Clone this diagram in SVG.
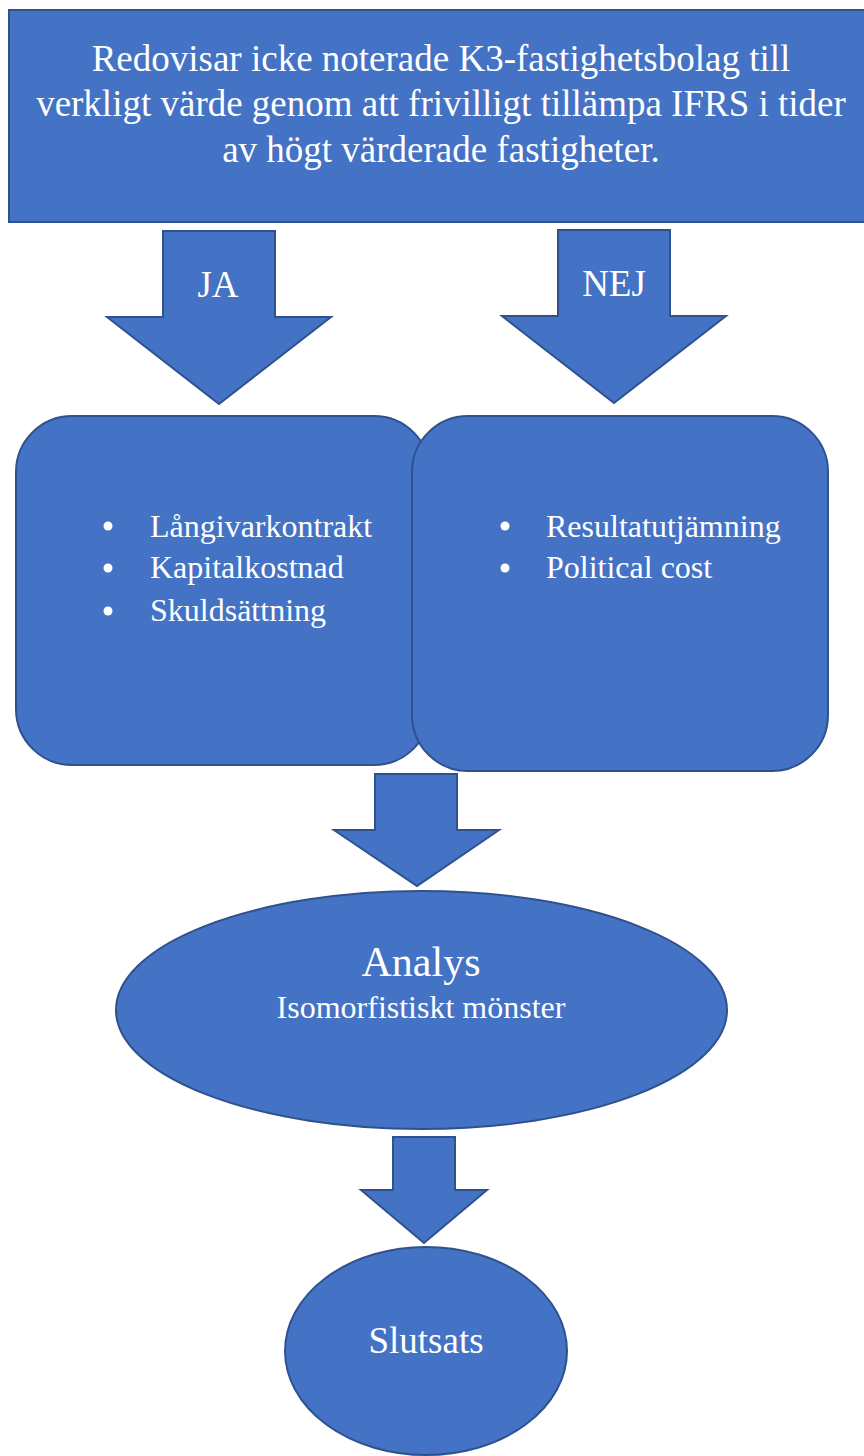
<svg xmlns="http://www.w3.org/2000/svg" width="864" height="1456" viewBox="0 0 864 1456">
<style>
.s{fill:#4472C4;stroke:#2F528F;stroke-width:2}
text{fill:#FFFFFF;font-family:'Liberation Serif',Tinos,'Times New Roman','Nimbus Roman','DejaVu Serif',serif}
.c{text-anchor:middle}
</style>
<rect width="864" height="1456" fill="#FFFFFF"/>
<g id="top">
<rect class="s" x="9" y="10" width="870" height="212"/>
<text class="c" font-size="37" x="441" y="71">Redovisar icke noterade K3-fastighetsbolag till</text>
<text class="c" font-size="37" x="441" y="116">verkligt värde genom att frivilligt tillämpa IFRS i tider</text>
<text class="c" font-size="37" x="441" y="162">av högt värderade fastigheter.</text>
</g>
<g id="connectors">
<g id="arrow-ja">
<polygon class="s" points="163,231 275,231 275,317 331,317 219,404 107,317 163,317"/>
<text class="c" font-size="37" x="218" y="297">JA</text>
</g>
<g id="arrow-nej">
<polygon class="s" points="558,230 670,230 670,316 726,316 614,403 502,316 558,316"/>
<text class="c" font-size="37" x="614" y="296">NEJ</text>
</g>
<polygon id="arrow-analys" class="s" points="375,774 457,774 457,830 499,830 417,886 334,830 375,830"/>
<polygon id="arrow-slutsats" class="s" points="393,1137 455,1137 455,1190 487,1190 424,1243 361,1190 393,1190"/>
</g>
<g id="box-ja">
<rect class="s" x="16" y="416" width="414" height="349" rx="56" ry="56"/>
<circle cx="108" cy="526" r="4.5" fill="#FFFFFF"/>
<circle cx="108" cy="568" r="4.5" fill="#FFFFFF"/>
<circle cx="108" cy="611" r="4.5" fill="#FFFFFF"/>
<text font-size="32" x="150" y="537">Långivarkontrakt</text>
<text font-size="32" x="150" y="578">Kapitalkostnad</text>
<text font-size="32" x="150" y="621">Skuldsättning</text>
</g>
<g id="box-nej">
<rect class="s" x="412" y="416" width="416" height="355" rx="56" ry="56"/>
<circle cx="505" cy="526" r="4.5" fill="#FFFFFF"/>
<circle cx="505" cy="568" r="4.5" fill="#FFFFFF"/>
<text font-size="32" x="546" y="537">Resultatutjämning</text>
<text font-size="32" x="546" y="578">Political cost</text>
</g>
<g id="analys">
<ellipse class="s" cx="421.5" cy="1010" rx="305.5" ry="119"/>
<text class="c" font-size="42" x="421" y="976">Analys</text>
<text class="c" font-size="32" x="421" y="1018">Isomorfistiskt mönster</text>
</g>
<g id="slutsats">
<ellipse class="s" cx="426" cy="1351" rx="141" ry="104"/>
<text class="c" font-size="37" x="426" y="1353">Slutsats</text>
</g>
</svg>
